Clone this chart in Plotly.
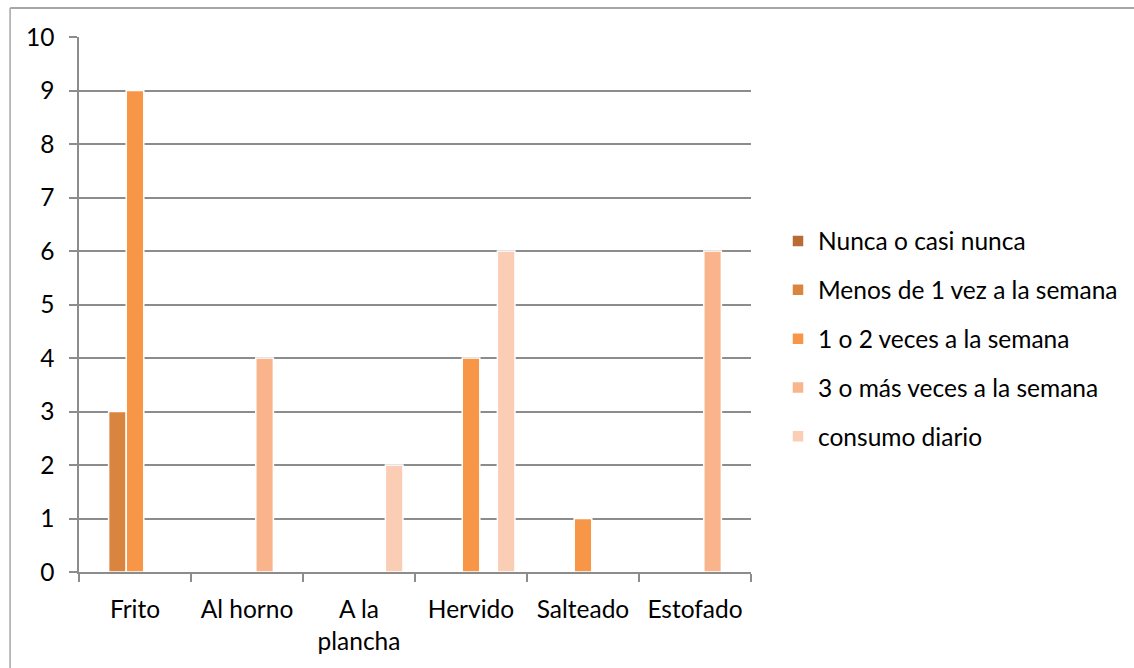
import plotly.graph_objects as go

# Cooking methods and weekly consumption frequency counts
categorias = ["Frito", "Al horno", "A la<br>plancha", "Hervido", "Salteado", "Estofado"]

series = [
    "Nunca o casi nunca",
    "Menos de 1 vez a la semana",
    "1 o 2 veces a la semana",
    "3 o más veces a la semana",
    "consumo diario",
]

nunca = [0, 0, 0, 0, 0, 0]
menos_1_vez = [3, 0, 0, 0, 0, 0]
una_dos_veces = [9, 0, 0, 4, 1, 0]
tres_o_mas = [0, 4, 0, 0, 0, 6]
diario = [0, 0, 2, 6, 0, 0]

valores = [nunca, menos_1_vez, una_dos_veces, tres_o_mas, diario]
colores = ["#B96B35", "#D9843F", "#F79646", "#F9B48B", "#FBCDB4"]

FONT = "Lato"
FSIZE = 24.5
GRIS = "#8C8C8C"

fig = go.Figure()
for i, (nombre, vals, color) in enumerate(zip(series, valores, colores)):
    fig.add_trace(go.Bar(
        name=nombre,
        x=categorias,
        y=vals,
        marker=dict(color=color, line=dict(color="white", width=1.5)),
        legendgroup=f"g{i}",
        hoverinfo="x+y+name",
    ))

W, H = 1134, 668
L, R, T, B = 79, 382, 37, 96
pw, ph = W - L - R, H - T - B


def px_x(p):
    return (p - L) / pw


def px_y(p):
    return (H - B - p) / ph


fig.update_layout(
    width=W,
    height=H,
    margin=dict(l=L, r=R, t=T, b=B),
    paper_bgcolor="white",
    plot_bgcolor="white",
    barmode="group",
    bargap=0.215,
    bargroupgap=0,
    font=dict(family=FONT, size=FSIZE, color="#000000"),
    showlegend=True,
    legend=dict(
        x=px_x(778),
        y=px_y(339),
        xanchor="left",
        yanchor="middle",
        traceorder="grouped",
        tracegroupgap=14,
        font=dict(family=FONT, size=FSIZE, color="#000000"),
        bgcolor="rgba(0,0,0,0)",
    ),
    xaxis=dict(
        showline=True,
        linecolor=GRIS,
        linewidth=1.5,
        ticks="outside",
        tickson="boundaries",
        ticklen=8,
        tickcolor=GRIS,
        tickwidth=1.5,
        ticklabelstandoff=15,
        showgrid=False,
        tickfont=dict(family=FONT, size=FSIZE, color="#000000"),
    ),
    yaxis=dict(
        range=[0, 10],
        dtick=1,
        showline=True,
        linecolor=GRIS,
        linewidth=1.5,
        ticks="outside",
        ticklen=8,
        tickcolor=GRIS,
        tickwidth=1.5,
        ticklabelstandoff=10,
        showgrid=True,
        gridcolor=GRIS,
        gridwidth=1.5,
        zeroline=False,
        tickfont=dict(family=FONT, size=FSIZE, color="#000000"),
    ),
    shapes=[
        # chart-area frame (top and left edges)
        dict(type="line", xref="paper", yref="paper",
             x0=px_x(10), y0=px_y(8), x1=px_x(W + 5), y1=px_y(8),
             line=dict(color="#8A8A8A", width=1.5)),
        dict(type="line", xref="paper", yref="paper",
             x0=px_x(10), y0=px_y(8), x1=px_x(10), y1=px_y(H + 5),
             line=dict(color="#A6A6A6", width=1.5)),
    ],
)

fig.write_html("out.html")
